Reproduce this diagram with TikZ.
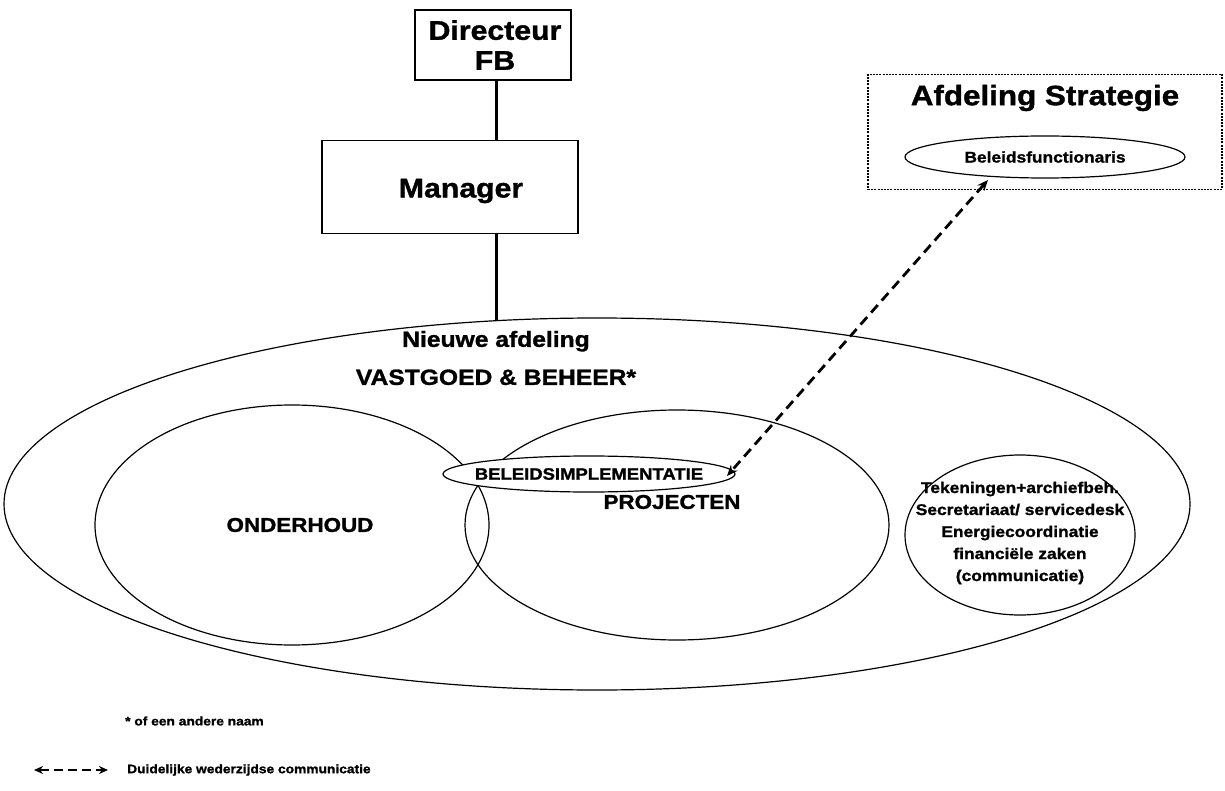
\documentclass[tikz,border=0pt]{standalone}
\usepackage{fontspec}
\setmainfont{Liberation Sans}[FakeStretch=1.12, BoldFeatures={FakeBold=1.3}]
\usetikzlibrary{shapes.geometric,arrows.meta}
\tikzset{
  box/.style={draw, line width=1.6pt, inner sep=0pt},
  oval/.style={draw, ellipse, line width=1.2pt, inner sep=0pt},
  conn/.style={line width=3pt},
  txt/.style={font=\bfseries, inner sep=0pt, align=center},
  big/.style={txt, font=\fontsize{27}{32}\selectfont\bfseries},
  mid/.style={txt, font=\fontsize{22}{38}\selectfont\bfseries},
  sub/.style={txt, font=\fontsize{20}{22}\selectfont\bfseries},
  small/.style={txt, font=\fontsize{15.5}{22}\selectfont\bfseries},
  tiny/.style={txt, font=\fontsize{12.3}{14}\selectfont\bfseries},
  comm/.style={line width=2.8pt, dash pattern=on 10pt off 6pt, {Stealth[length=11pt,width=9pt]}-{Stealth[length=11pt,width=9pt]}},
}
\begin{document}
\begin{tikzpicture}[x=1pt,y=-1pt]
\useasboundingbox (0,0) rectangle (1225,791);
% top boxes
\node[box, minimum width=156pt, minimum height=70pt] (dir) at (493,45) {};
\node[big] (dirt) at (495,45) {Directeur\\[-2pt]FB};
\node[box, minimum width=256pt, minimum height=93pt] (mgr) at (450,187) {};
\node[big] (mgrt) at (461,191) {Manager};
% strategy box
\node[draw, line width=1.1pt, dash pattern=on 2pt off 1.2pt, minimum width=354pt, minimum height=115pt, inner sep=0pt] (strat) at (1045,132) {};
\node[big, font=\fontsize{28}{32}\selectfont\bfseries] (strt) at (1045,98) {Afdeling Strategie};
\node[oval, minimum width=280pt, minimum height=42pt] (bf) at (1045,157) {};
\node[small] (bft) at (1045,157) {Beleidsfunctionaris};
% big ellipse
\node[oval, minimum width=1186pt, minimum height=372pt] (va) at (597,504) {};
\node[mid] (vat) at (496,358) {Nieuwe afdeling\\VASTGOED \& BEHEER*};
% inner ellipses
\node[oval, minimum width=394pt, minimum height=240pt] (ond) at (292,525) {};
\node[sub] (ondt) at (300,525) {ONDERHOUD};
\node[oval, minimum width=424pt, minimum height=230pt] (proj) at (677,525) {};
\node[sub] (projt) at (672,502) {PROJECTEN};
\node[oval, fill=white, minimum width=292pt, minimum height=36pt] (bi) at (589,474) {};
\node[small, font=\fontsize{16.5}{18}\selectfont\bfseries] (bit) at (589,474) {BELEIDSIMPLEMENTATIE};
\node[oval, minimum width=230pt, minimum height=160pt] (ser) at (1020,535) {};
\node[small] (sert) at (1020,533) {Tekeningen+archiefbeh.\\Secretariaat/ servicedesk\\Energiecoordinatie\\financiële zaken\\(communicatie)};
% connectors
\coordinate (d1) at (496,80);
\coordinate (m1) at (496,140);
\coordinate (m2) at (496,233);
\coordinate (v1) at (496,321);
\draw[conn] (d1) -- (m1);
\draw[conn] (m2) -- (v1);
\coordinate (a1) at (988,180);
\coordinate (a2) at (727,476);
\draw[comm] (a1) -- (a2);
% legend
\node[tiny, anchor=west] (leg1) at (125,721) {* of een andere naam};
\node[tiny, anchor=west] (leg2) at (127,770) {Duidelijke wederzijdse communicatie};
\coordinate (l1) at (34,770);
\coordinate (l2) at (108,770);
\draw[line width=2.6pt, dash pattern=on 9pt off 5pt, {Stealth[length=9pt,width=8pt]}-{Stealth[length=9pt,width=8pt]}] (l1) -- (l2);
\end{tikzpicture}
\end{document}
